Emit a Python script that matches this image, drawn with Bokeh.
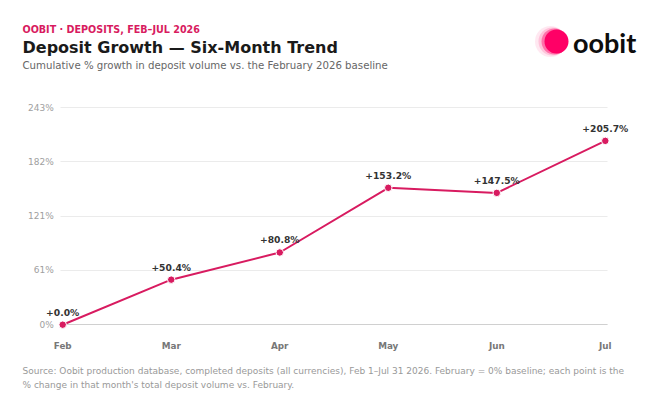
from bokeh.plotting import figure
from bokeh.models import Range1d, FixedTicker, ColumnDataSource, LabelSet, Grid
from bokeh.layouts import column
from bokeh.core.properties import value
from bokeh.embed import file_html
from bokeh.resources import INLINE

# ---- data ----
months = ["Feb", "Mar", "Apr", "May", "Jun", "Jul"]
growth = [0.0, 50.4, 80.8, 153.2, 147.5, 205.7]
y_ticks = [0, 60.7, 121.4, 182.1, 242.8]
y_tick_labels = ["0%", "61%", "121%", "182%", "243%"]

kicker = "OOBIT · DEPOSITS, FEB–JUL 2026"
title = "Deposit Growth — Six-Month Trend"
subtitle = "Cumulative % growth in deposit volume vs. the February 2026 baseline"
foot1 = ("Source: Oobit production database, completed deposits (all currencies), Feb 1–Jul 31 2026. "
         "February = 0% baseline; each point is the")
foot2 = "% change in that month's total deposit volume vs. February."

PINK = "#d81b60"
FONT = value("DejaVu Sans")
W = 658

def blank(h):
    f = figure(width=W, height=h, x_range=Range1d(0, W), y_range=Range1d(h, 0),
               toolbar_location=None, output_backend="svg", min_border=0)
    f.frame_align = False
    f.axis.visible = False
    f.grid.visible = False
    f.outline_line_color = None
    return f

# ---- header ----
hdr = blank(100)
hdr.text(x=[22], y=[28.5], text=[kicker], text_font=FONT, text_font_size="9.6px",
         text_font_style="bold", text_color=PINK, text_baseline="middle")
hdr.text(x=[22], y=[46.5], text=[title], text_font=FONT, text_font_size="16px",
         text_font_style="bold", text_color="#1a1a1a", text_baseline="middle")
hdr.text(x=[22], y=[65], text=[subtitle], text_font=FONT, text_font_size="10.2px",
         text_color="#666666", text_baseline="middle")
# logo
hdr.scatter(x=[550], y=[41], size=31, fill_color="#ff1a75", fill_alpha=0.10, line_color=None)
hdr.scatter(x=[552], y=[41], size=28, fill_color="#ff1a75", fill_alpha=0.18, line_color=None)
hdr.scatter(x=[554], y=[41], size=26, fill_color="#ff0a6c", fill_alpha=0.45, line_color=None)
hdr.scatter(x=[556], y=[41], size=24, fill_color="#ff0066", fill_alpha=1.0, line_color=None)
hdr.text(x=[572.5], y=[41.5], text=["oobit"], text_font=value("Lato"), text_font_size="27px",
         text_font_style="bold", text_color="#0d0d0d", text_baseline="middle")

# ---- main chart ----
xs = list(range(len(months)))
p = figure(width=W, height=262, x_range=Range1d(-0.3336, 5.3244), y_range=Range1d(-4.25, 250.87),
           toolbar_location=None, output_backend="svg",
           min_border_left=26, min_border_right=18, min_border_top=0, min_border_bottom=34)
p.frame_align = False
p.outline_line_color = None
p.xgrid.visible = False
p.ygrid.grid_line_color = "#ebebeb"
p.ygrid.grid_line_width = 1
p.ygrid.cross_bounds = (-0.02, 5.02)

p.yaxis.ticker = FixedTicker(ticks=y_ticks)
p.yaxis.major_label_overrides = {t: l for t, l in zip(y_ticks, y_tick_labels)}
p.yaxis.fixed_location = 0
p.xaxis.ticker = FixedTicker(ticks=xs)
p.xaxis.major_label_overrides = {i: m for i, m in zip(xs, months)}
for ax in (p.xaxis, p.yaxis):
    ax.axis_line_color = None
    ax.major_tick_line_color = None
    ax.minor_tick_line_color = None
    ax.major_label_text_font = "DejaVu Sans"
p.yaxis.major_label_text_font_size = "9px"
p.yaxis.major_label_text_color = "#a0a0a0"
p.yaxis.major_label_standoff = 3
p.xaxis.major_label_text_font_size = "8.8px"
p.xaxis.major_label_text_color = "#777777"
p.xaxis.major_label_text_font_style = "bold"
p.xaxis.major_label_standoff = 6

base = Grid(dimension=1, ticker=FixedTicker(ticks=[0]), grid_line_color="#d0d0d0",
            grid_line_width=1, cross_bounds=(-0.02, 5.02))
p.add_layout(base)

src = ColumnDataSource(dict(x=xs, y=growth, lab=[f"+{v:.1f}%" for v in growth]))
p.line("x", "y", source=src, line_color=PINK, line_width=2)
p.scatter("x", "y", source=src, size=7.5, fill_color=PINK, line_color="white", line_width=1)
p.add_layout(LabelSet(x="x", y="y", text="lab", source=src, y_offset=9, text_align="center",
                      text_baseline="alphabetic", text_font=value("DejaVu Sans"),
                      text_font_size="9.2px", text_font_style="bold", text_color="#333333"))

# ---- footer ----
ftr = blank(48)
ftr.text(x=[22], y=[8.3], text=[foot1], text_font=FONT, text_font_size="9px",
         text_color="#999999", text_baseline="middle")
ftr.text(x=[22], y=[22.3], text=[foot2], text_font=FONT, text_font_size="9px",
         text_color="#999999", text_baseline="middle")

layout = column(hdr, p, ftr, spacing=0)
open("out.html", "w").write(file_html(layout, INLINE))
